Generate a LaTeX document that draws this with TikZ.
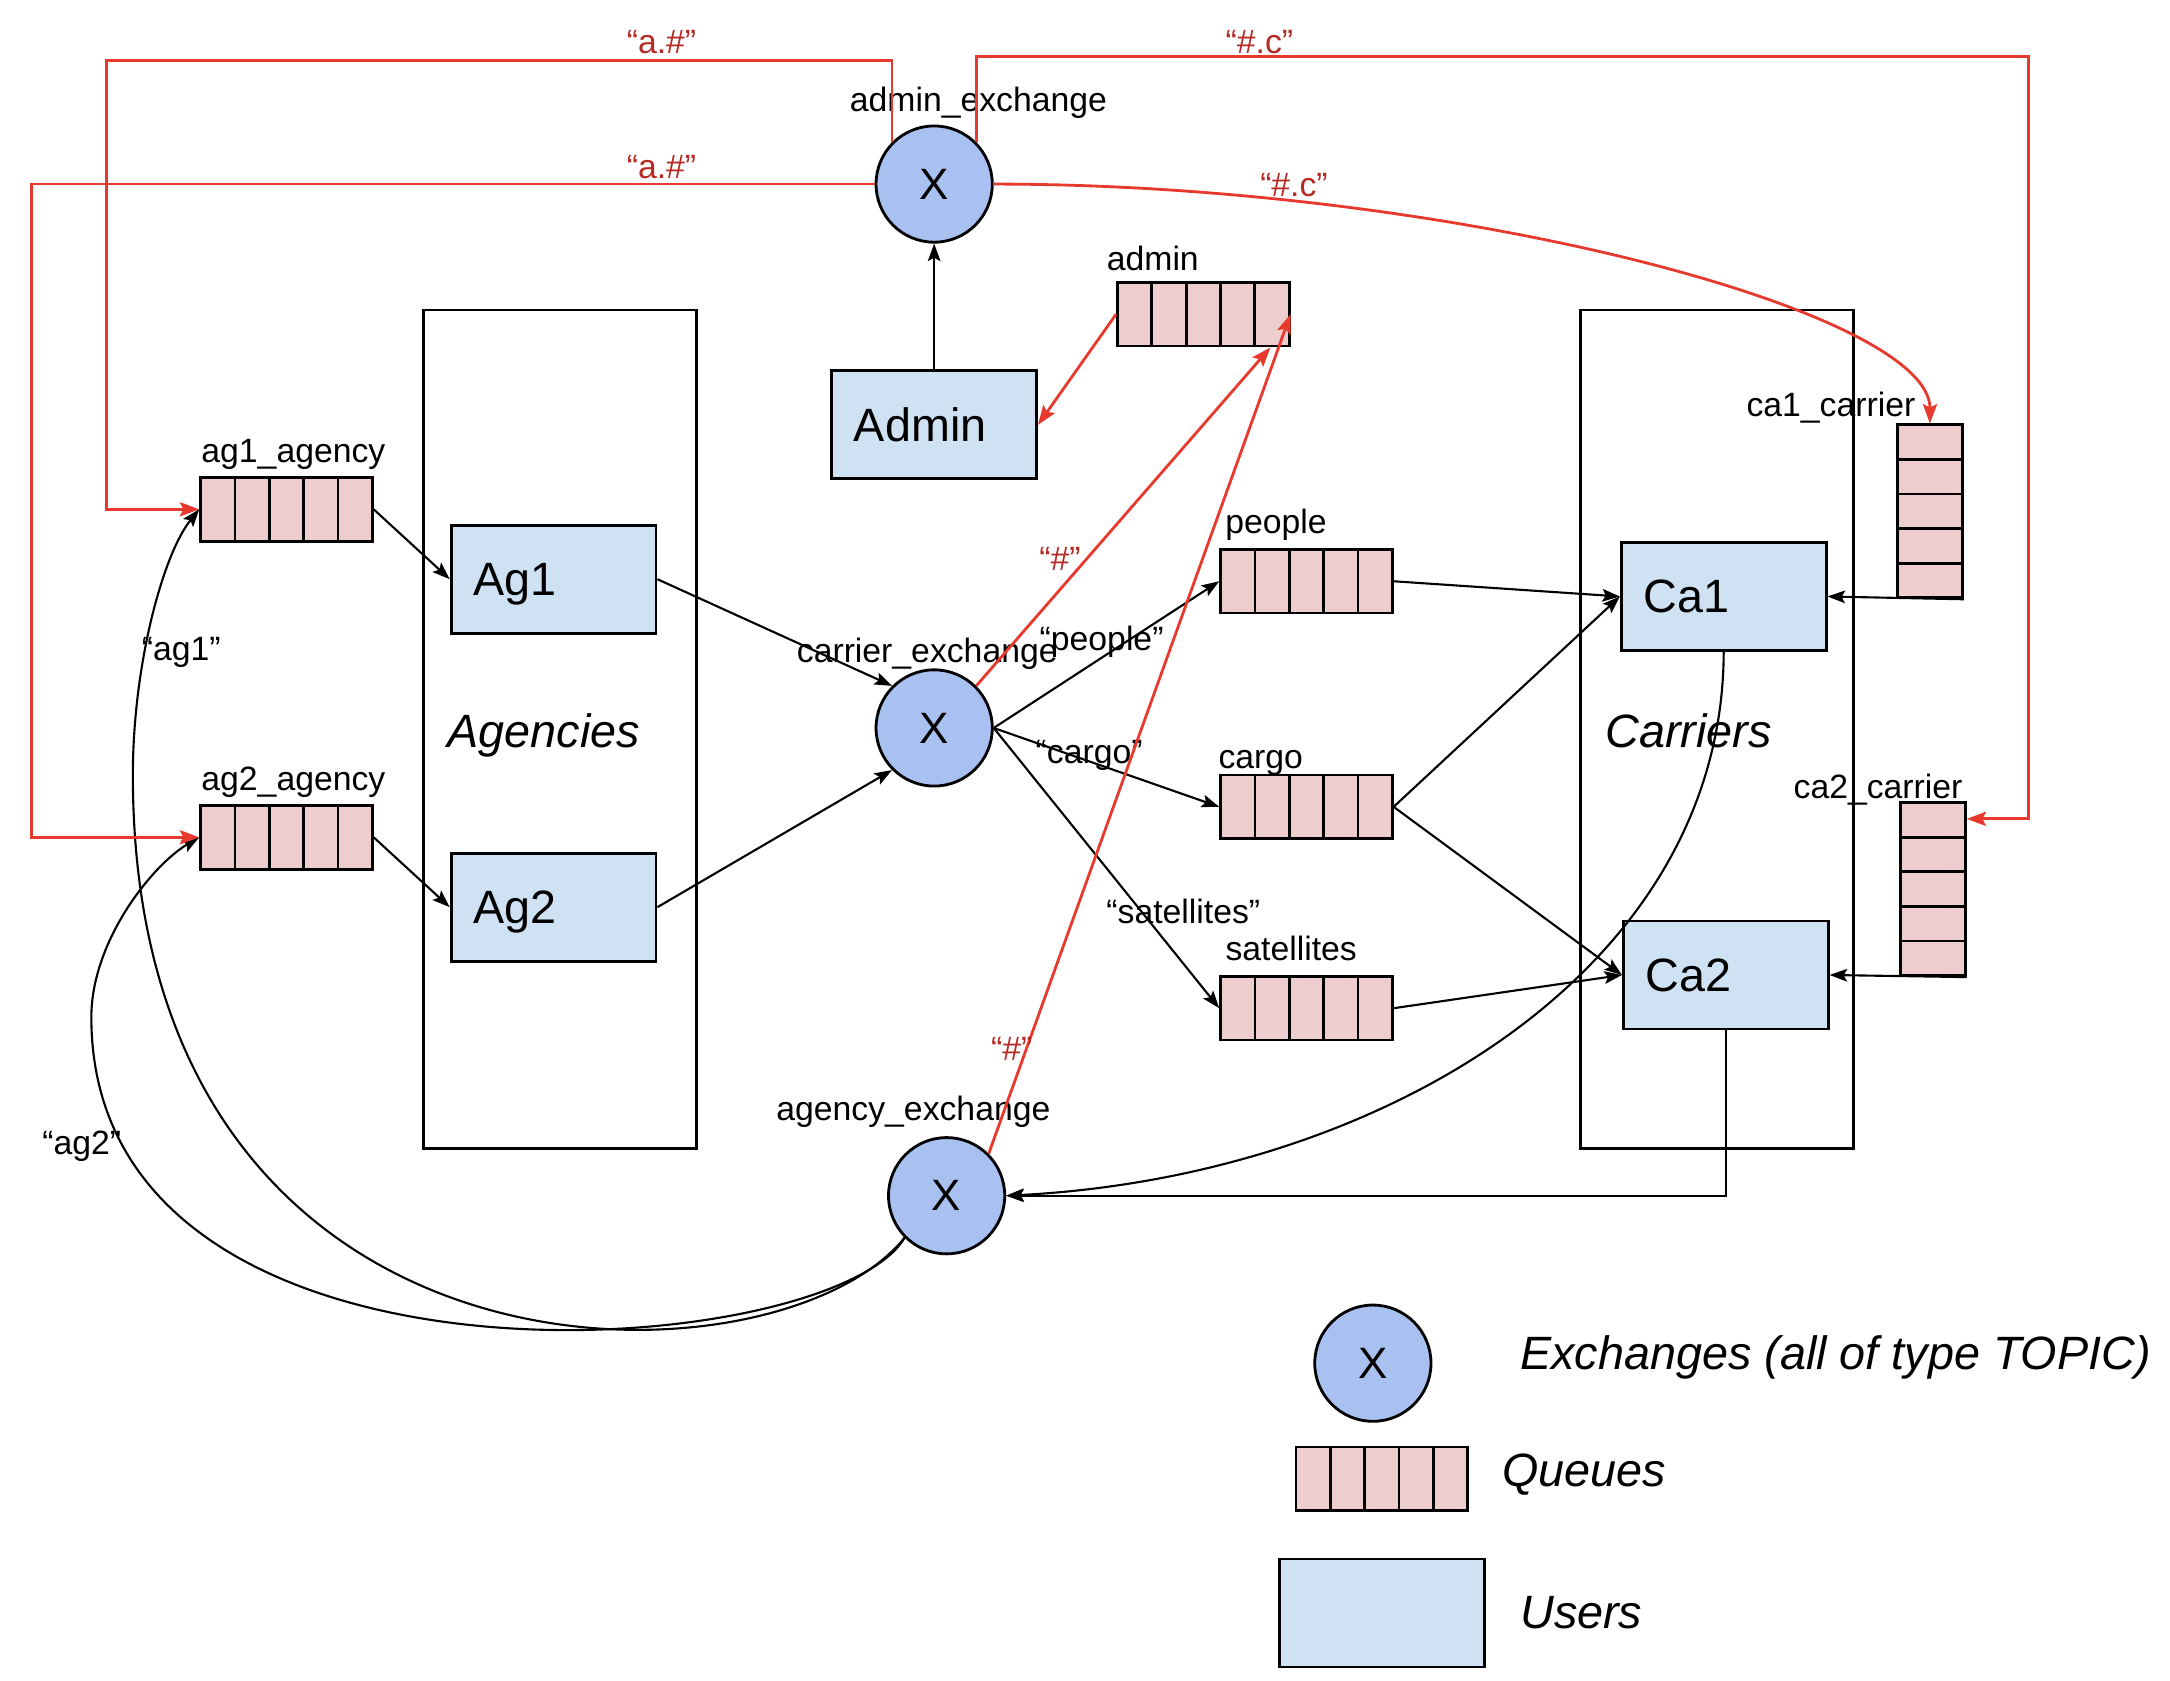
\documentclass[tikz,border=0pt]{standalone}
\usepackage{fontspec}
\setmainfont{Liberation Sans}
\usetikzlibrary{arrows.meta,calc}
\definecolor{exfill}{HTML}{A8C1F0}
\definecolor{qfill}{HTML}{EDCDCD}
\definecolor{ufill}{HTML}{CFE2F3}
\definecolor{linered}{HTML}{E8392E}
\definecolor{lblred}{HTML}{B52A24}
\def\pxu{0.01384cm}
\tikzset{
  exch/.style={circle, draw, line width=0.8pt, fill=exfill, minimum size=84*\pxu, inner sep=0pt, text depth=0pt, font=\fontsize{12.5}{14}\selectfont},
  queue/.style={rectangle, draw, line width=0.8pt, fill=qfill, inner sep=0pt},
  hq/.style={queue, minimum width=124*\pxu, minimum height=46*\pxu,
    path picture={\foreach \k in {1,2,3,4}{\draw[line width=0.8pt] ($(path picture bounding box.north west)!\k/5!(path picture bounding box.north east)$) -- ($(path picture bounding box.south west)!\k/5!(path picture bounding box.south east)$);}}},
  vq/.style={queue, minimum width=47*\pxu, minimum height=125*\pxu,
    path picture={\foreach \k in {1,2,3,4}{\draw[line width=0.8pt] ($(path picture bounding box.north west)!\k/5!(path picture bounding box.south west)$) -- ($(path picture bounding box.north east)!\k/5!(path picture bounding box.south east)$);}}},
  user/.style={rectangle, draw, line width=0.8pt, fill=ufill, minimum width=148*\pxu, minimum height=78*\pxu, inner xsep=16*\pxu, inner ysep=0pt, text width=116*\pxu, text depth=0pt, align=left, font=\fontsize{13.3}{15}\selectfont},
  group/.style={rectangle, draw, line width=0.8pt, minimum width=197*\pxu, minimum height=606*\pxu, inner sep=0pt},
  lbl/.style={font=\fontsize{9.6}{11}\selectfont, inner sep=0pt, yshift=-1pt},
  rlbl/.style={lbl, text=lblred},
  big/.style={font=\fontsize{13.3}{15}\selectfont\itshape, inner sep=0pt, text depth=0pt},
  conn/.style={draw, line width=0.6pt, -{Stealth[length=5pt,width=3.6pt,inset=1pt]}},
  rconn/.style={conn, draw=linered, line width=0.8pt, -{Stealth[length=5.5pt,width=4pt,inset=1pt]}, color=linered},
}
\begin{document}
\begin{tikzpicture}[x=0.01384cm, y=-0.01384cm]
\useasboundingbox (0,0) rectangle (1568,1214);

% groups
\node[group] (agencies) at (404.5,527) {};
\node[group] (carriers) at (1240.5,527) {};
\node[big] (agtxt) at (393,528) {Agencies};
\node[big] (catxt) at (1220,528) {Carriers};

% exchanges
\node[exch] (admx) at (675,133) {X};
\node[exch] (carx) at (675,526) {X};
\node[exch] (agx) at (684,864) {X};
\node[lbl] (admxl) at (707,72) {admin\_exchange};
\node[lbl] (carxl) at (670,470) {carrier\_exchange};
\node[lbl] (agxl) at (660,801) {agency\_exchange};

% users
\node[user] (admin) at (675,307) {Admin};
\node[user] (ag1) at (400,418.5) {Ag1};
\node[user] (ag2) at (400,655.5) {Ag2};
\node[user] (ca1) at (1245.5,431) {Ca1};
\node[user] (ca2) at (1247,704.5) {Ca2};

% queues
\node[hq] (qag1) at (207,368) {};
\node[hq] (qag2) at (207,605) {};
\node[hq] (qadmin) at (869.5,227) {};
\node[hq] (qpeople) at (944,420) {};
\node[hq] (qcargo) at (944,583) {};
\node[hq] (qsat) at (944,728.5) {};
\node[vq] (qca1) at (1394.5,369.5) {};
\node[vq] (qca2) at (1396.5,642.5) {};

\node[lbl] (lqag1) at (212,326) {ag1\_agency};
\node[lbl] (lqag2) at (212,563) {ag2\_agency};
\node[lbl] (lqadmin) at (833,184) {admin};
\node[lbl] (lqpeople) at (922,377) {people};
\node[lbl] (lqcargo) at (911,549) {cargo};
\node[lbl] (lqsat) at (933,683) {satellites};
\node[lbl] (lqca1) at (1323,292) {ca1\_carrier};
\node[lbl] (lqca2) at (1357,568) {ca2\_carrier};

% black connectors
\draw[conn] (qag1.east) -- (ag1.west);
\draw[conn] (qag2.east) -- (ag2.west);
\draw[conn] (ag1.east) -- (carx.135);
\draw[conn] (ag2.east) -- (carx.225);
\draw[conn] (admin.north) -- (admx.south);
\draw[conn] (carx.east) -- (qpeople.west);
\draw[conn] (carx.east) -- (qcargo.west);
\draw[conn] (carx.east) -- (qsat.west);
\draw[conn] (qpeople.east) -- (ca1.west);
\draw[conn] (qcargo.east) -- (ca1.west);
\draw[conn] (qcargo.east) -- (ca2.west);
\draw[conn] (qsat.east) -- (ca2.west);
\draw[conn] (qca1.south east) -- (ca1.east);
\draw[conn] (qca2.south east) -- (ca2.east);
\draw[conn] (ca1.south) .. controls (1245,700) and (1000,850) .. (agx.east);
\draw[conn] (ca2.south) |- (agx.east);
\draw[conn] (agx.225) .. controls (560,1010) and (96,1018) .. (96,560) .. controls (96,480) and (118,400) .. (qag1.west);
\draw[conn] (agx.225) .. controls (600,985) and (66,1025) .. (66,735) .. controls (66,680) and (110,625) .. (qag2.west);

\node[lbl] (kag1) at (131,469) {“ag1”};
\node[lbl] (kag2) at (59,826) {“ag2”};
\node[lbl] (kpeople) at (796,461) {“people”};
\node[lbl] (kcargo) at (787,543) {“cargo”};
\node[lbl] (ksat) at (855,656) {“satellites”};

% red connectors
\coordinate (ca2in) at ($(qca2.north east)!0.1!(qca2.south east)$);
\coordinate (qadmbot) at ($(qadmin.south west)!0.885!(qadmin.south east)$);
\draw[rconn] (admx.135) |- (77,44) |- (qag1.west);
\draw[rconn] (admx.west) -| (23,605) -- (qag2.west);
\draw[rconn] (admx.45) |- (1466,41) |- (ca2in);
\draw[rconn] (admx.east) .. controls (1050,133) and (1395,225) .. (qca1.north);
\draw[rconn] (qadmin.west) -- (admin.east);
\draw[rconn] (carx.45) -- (qadmbot);
\draw[rconn] (agx.45) -- (qadmin.east);

\node[rlbl] (ra1) at (478,28) {“a.\#”};
\node[rlbl] (ra2) at (478,118) {“a.\#”};
\node[rlbl] (rc1) at (910,28) {“\#.c”};
\node[rlbl] (rc2) at (935,131) {“\#.c”};
\node[rlbl] (rh1) at (766,401) {“\#”};
\node[rlbl] (rh2) at (731,755) {“\#”};

% legend
\node[exch] (legx) at (992,985) {X};
\node[hq] (legq) at (998.5,1068.5) {};
\node[user] (legu) at (998.5,1165.5) {};
\node[big, anchor=west] (legxt) at (1098,977) {Exchanges (all of type TOPIC)};
\node[big, anchor=west] (legqt) at (1085,1062) {Queues};
\node[big, anchor=west] (legut) at (1098,1165) {Users};
\end{tikzpicture}
\end{document}
